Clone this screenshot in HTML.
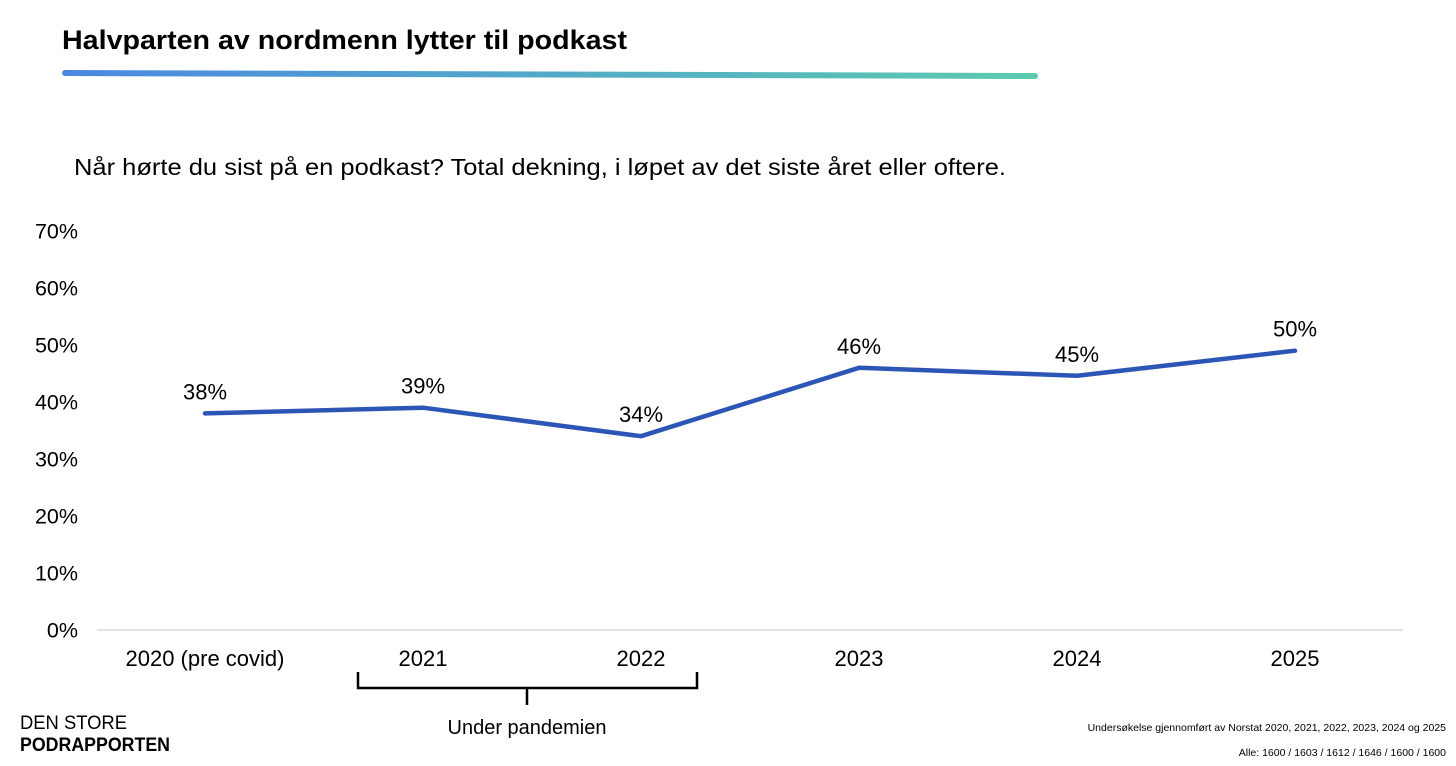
<!DOCTYPE html>
<html><head><meta charset="utf-8"><style>
body{margin:0;background:#fff}
svg{display:block;font-family:"Liberation Sans",Arial,sans-serif}
</style></head><body>
<svg id="chart" width="1456" height="766" viewBox="0 0 1456 766">
<defs><linearGradient id="g" x1="0" x2="1" y1="0" y2="0"><stop offset="0" stop-color="#4a88e2"/><stop offset="1" stop-color="#5ccbaf"/></linearGradient></defs>
<text x="62" y="49" font-size="27" font-weight="bold" textLength="565" lengthAdjust="spacingAndGlyphs">Halvparten av nordmenn lytter til podkast</text>
<path d="M65 73 L1035 76" stroke="url(#g)" stroke-width="6" stroke-linecap="round"/>
<text x="74" y="175" font-size="23" textLength="932" lengthAdjust="spacingAndGlyphs">Når hørte du sist på en podkast? Total dekning, i løpet av det siste året eller oftere.</text>
<line x1="97" y1="630" x2="1403" y2="630" stroke="#d9d9d9" stroke-width="1.5"/>
<g id="yticks"></g><g id="xticks"></g><g id="series"></g>
<path d="M358 672 L358 688 L527 688 M527 688 L527 705 M527 688 L697 688 L697 672" fill="none" stroke="#000" stroke-width="2.5"/>
<text x="527" y="734" font-size="20" text-anchor="middle">Under pandemien</text>
<text x="20" y="729" font-size="19" textLength="107" lengthAdjust="spacingAndGlyphs">DEN STORE</text>
<text x="20" y="751" font-size="19" font-weight="bold" textLength="150" lengthAdjust="spacingAndGlyphs">PODRAPPORTEN</text>
<text x="1446" y="731" font-size="10.5" text-anchor="end">Undersøkelse gjennomført av Norstat 2020, 2021, 2022, 2023, 2024 og 2025</text>
<text x="1446" y="756" font-size="10.5" text-anchor="end">Alle: 1600 / 1603 / 1612 / 1646 / 1600 / 1600</text>
</svg>
<script>
const categories = ["2020 (pre covid)","2021","2022","2023","2024","2025"];
const values = [38,39,34,46,44.6,49];
const valueLabels = ["38%","39%","34%","46%","45%","50%"];
const yTicks = [0,10,20,30,40,50,60,70];
const yTickLabels = ["0%","10%","20%","30%","40%","50%","60%","70%"];
const NS="http://www.w3.org/2000/svg";
const y = v => 630 - v*5.7;
const x = i => 205 + i*218;
function mk(tag, attrs, parent, txt){const e=document.createElementNS(NS,tag);for(const k in attrs)e.setAttribute(k,attrs[k]);if(txt!==undefined)e.textContent=txt;parent.appendChild(e);return e;}
const yg=document.getElementById('yticks'), xg=document.getElementById('xticks'), sg=document.getElementById('series');
yTicks.forEach((t,i)=>{const e=mk('text',{x:78,y:y(t)+7.5,'font-size':21.5,'text-anchor':'end'},yg,yTickLabels[i]);

});
categories.forEach((c,i)=>{const e=mk('text',{x:x(i),y:666,'font-size':22,'text-anchor':'middle'},xg,c);

});
const pl=mk('polyline',{points:values.map((v,i)=>x(i)+','+y(v)).join(' '),fill:'none',stroke:'#2b56b5','stroke-width':4.5,'stroke-linejoin':'round','stroke-linecap':'round'},sg);


values.forEach((v,i)=>{const e=mk('text',{x:x(i),y:y(v)-14,'font-size':22,'text-anchor':'middle'},sg,valueLabels[i]);

});
</script>
</body></html>
